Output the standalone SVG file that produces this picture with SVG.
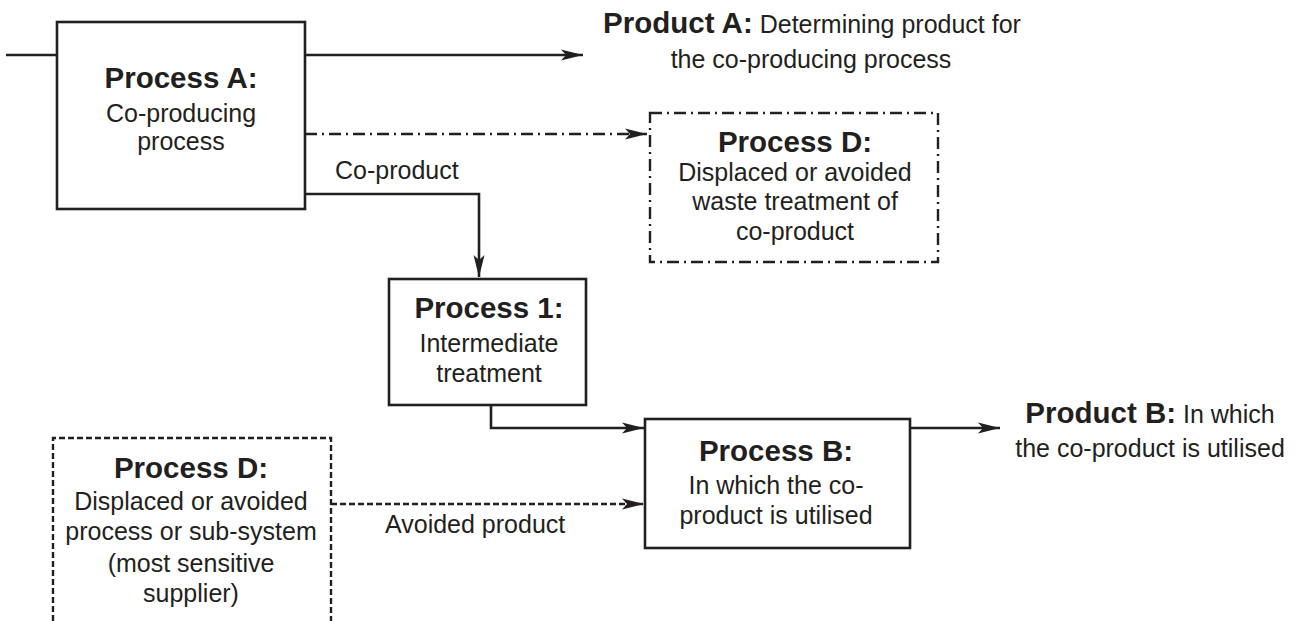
<svg xmlns="http://www.w3.org/2000/svg" width="1298" height="621" viewBox="0 0 1298 621">
<style>
.box{fill:#fff;stroke:#231f20;stroke-width:2.6}
.dd{fill:none;stroke:#231f20;stroke-width:2.4;stroke-dasharray:12 5 2 5}
.dash{fill:none;stroke:#231f20;stroke-width:2.4;stroke-dasharray:6 3}
.ln{fill:none;stroke:#231f20;stroke-width:2.6}
text{font-family:"Liberation Sans",Arial,Helvetica,sans-serif;fill:#231f20;font-size:25px}
.b{font-weight:bold;font-size:29.5px}
.c{text-anchor:middle}
</style>
<defs>
<marker id="ah" markerUnits="userSpaceOnUse" markerWidth="24" markerHeight="14" refX="22" refY="5.5" orient="auto" overflow="visible">
<path d="M0,0 L22,5.5 L0,11 L5,5.5 Z" fill="#231f20"/>
</marker>
</defs>
<g id="connectors">
<line class="ln" x1="6" y1="55" x2="57" y2="55"/>
<line class="ln" x1="305" y1="55" x2="583" y2="55" marker-end="url(#ah)"/>
<line class="dd" x1="305" y1="134" x2="647" y2="134" marker-end="url(#ah)"/>
<polyline class="ln" points="305,194 479,194 479,277" marker-end="url(#ah)"/>
<polyline class="ln" points="491,405 491,428 644,428" marker-end="url(#ah)"/>
<line class="dash" x1="331" y1="504" x2="644" y2="504" marker-end="url(#ah)"/>
<line class="ln" x1="910" y1="428" x2="1000" y2="428" marker-end="url(#ah)"/>
<text x="335" y="179">Co-product</text>
<text x="385" y="533">Avoided product</text>
</g>
<g id="processA">
<rect class="box" x="57" y="22" width="248" height="187"/>
<text class="c b" x="181" y="88">Process A:</text>
<text class="c" x="181" y="122">Co-producing</text>
<text class="c" x="181" y="150">process</text>
</g>
<g id="productA">
<text class="c" x="812" y="33"><tspan class="b">Product A:</tspan> Determining product for</text>
<text class="c" x="811" y="68">the co-producing process</text>
</g>
<g id="processD1">
<rect class="dd" x="650" y="113" width="288" height="149"/>
<text class="c b" x="795" y="152">Process D:</text>
<text class="c" x="795" y="181">Displaced or avoided</text>
<text class="c" x="795" y="210">waste treatment of</text>
<text class="c" x="795" y="240">co-product</text>
</g>
<g id="process1">
<rect class="box" x="389" y="279" width="197" height="126"/>
<text class="c b" x="489" y="318">Process 1:</text>
<text class="c" x="489" y="352">Intermediate</text>
<text class="c" x="489" y="382">treatment</text>
</g>
<g id="processB">
<rect class="box" x="645" y="419" width="265" height="129"/>
<text class="c b" x="776" y="461">Process B:</text>
<text class="c" x="776" y="494">In which the co-</text>
<text class="c" x="776" y="524">product is utilised</text>
</g>
<g id="productB">
<text class="c" x="1150" y="423"><tspan class="b">Product B:</tspan> In which</text>
<text class="c" x="1150" y="457">the co-product is utilised</text>
</g>
<g id="processD2">
<path class="dash" d="M53,630 V438 H331 V630"/>
<text class="c b" x="191" y="478">Process D:</text>
<text class="c" x="191" y="510">Displaced or avoided</text>
<text class="c" x="191" y="540">process or sub-system</text>
<text class="c" x="191" y="572">(most sensitive</text>
<text class="c" x="191" y="602">supplier)</text>
</g>
</svg>
